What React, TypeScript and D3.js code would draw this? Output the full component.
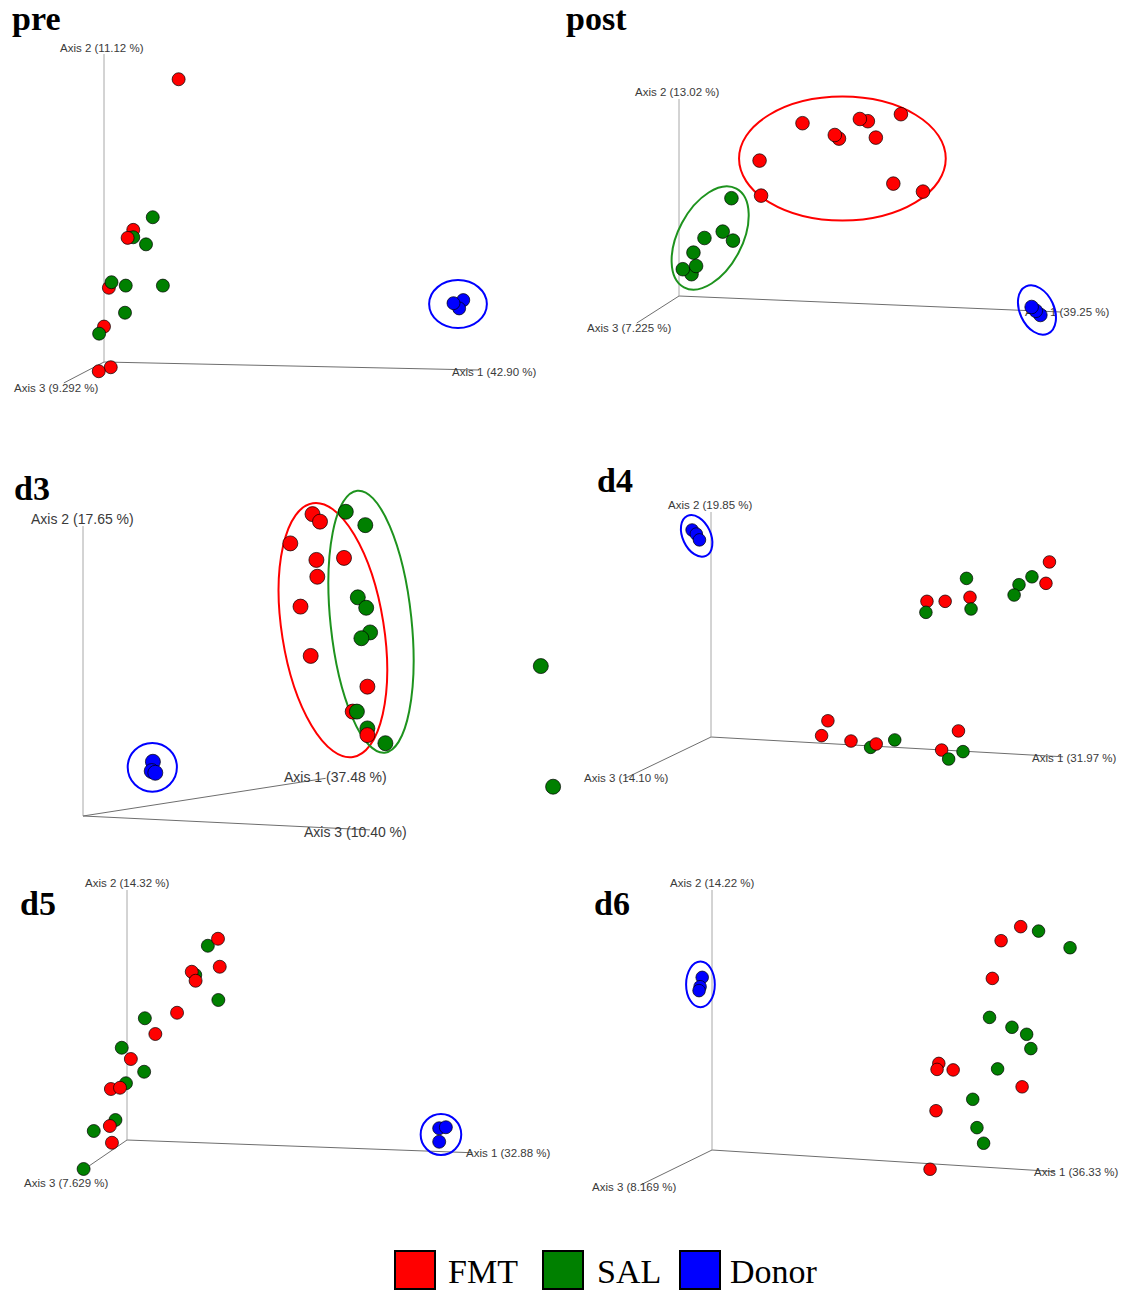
import React from "react";
import * as d3 from "d3";

// Group order, legend labels and colours
const groups = ["FMT", "SAL", "Donor"];
const groupFill = ["#ff0000", "#008000", "#0000ff"];
const groupRing = ["#ff0000", "#1e931e", "#0000ff"];

// Projected PCoA scores: [group, horizontal, vertical] in each panel's view units
const preScores: [string, number, number][] = [
  ["FMT", 19.9, 91.8],
  ["SAL", 13.0, 47.0],
  ["FMT", 7.8, 42.9],
  ["SAL", 7.8, 40.5],
  ["FMT", 6.3, 40.3],
  ["SAL", 11.2, 38.2],
  ["FMT", 1.3, 24.1],
  ["SAL", 2.0, 25.9],
  ["SAL", 5.8, 24.8],
  ["SAL", 15.7, 24.8],
  ["SAL", 5.6, 16.0],
  ["FMT", 0.0, 11.5],
  ["SAL", -1.3, 9.2],
  ["FMT", 1.8, -1.7],
  ["FMT", -1.4, -3.0],
  ["Donor", 95.8, 20.1],
  ["Donor", 94.7, 17.4],
  ["Donor", 93.2, 19.1],
];

const postScores: [string, number, number][] = [
  ["FMT", 32.5, 86.4],
  ["FMT", 42.1, 78.7],
  ["FMT", 41.0, 80.5],
  ["FMT", 49.7, 87.4],
  ["FMT", 47.6, 88.5],
  ["FMT", 51.8, 79.2],
  ["FMT", 58.4, 90.9],
  ["FMT", 21.2, 67.7],
  ["FMT", 21.6, 50.2],
  ["FMT", 56.4, 56.2],
  ["FMT", 64.2, 52.2],
  ["SAL", 13.8, 48.9],
  ["SAL", 11.5, 32.2],
  ["SAL", 14.2, 27.7],
  ["SAL", 6.7, 29.0],
  ["SAL", 3.8, 21.7],
  ["SAL", 3.3, 10.9],
  ["SAL", 1.0, 13.4],
  ["SAL", 4.5, 15.0],
  ["Donor", 95.1, -9.5],
  ["Donor", 93.9, -7.4],
  ["Donor", 92.8, -5.5],
];

const d3Scores: [string, number, number][] = [
  ["FMT", 76.5, 104.1],
  ["FMT", 79.0, 101.5],
  ["FMT", 69.1, 94.0],
  ["FMT", 77.8, 88.3],
  ["FMT", 78.1, 82.5],
  ["FMT", 87.0, 89.0],
  ["FMT", 72.5, 72.2],
  ["FMT", 75.9, 55.2],
  ["FMT", 94.8, 44.6],
  ["SAL", 87.6, 104.9],
  ["SAL", 94.1, 100.3],
  ["SAL", 91.6, 75.4],
  ["SAL", 94.4, 71.8],
  ["SAL", 95.7, 63.3],
  ["SAL", 92.8, 61.3],
  ["FMT", 89.9, 36.0],
  ["SAL", 91.3, 36.0],
  ["SAL", 94.8, 30.2],
  ["FMT", 94.8, 27.9],
  ["SAL", 100.8, 25.1],
  ["SAL", 152.6, 51.7],
  ["SAL", 156.7, 10.1],
  ["Donor", 23.3, 18.7],
  ["Donor", 22.9, 15.5],
  ["Donor", 24.1, 14.9],
];

const d4Scores: [string, number, number][] = [
  ["FMT", 96.7, 77.8],
  ["FMT", 95.7, 68.3],
  ["SAL", 91.7, 71.2],
  ["SAL", 88.0, 67.7],
  ["SAL", 86.6, 63.1],
  ["SAL", 73.0, 70.5],
  ["FMT", 61.7, 60.3],
  ["FMT", 66.9, 60.3],
  ["FMT", 74.0, 62.1],
  ["SAL", 61.4, 55.4],
  ["SAL", 74.3, 56.9],
  ["FMT", 33.4, 7.2],
  ["FMT", 31.6, 0.6],
  ["FMT", 40.0, -1.8],
  ["SAL", 45.6, -4.6],
  ["FMT", 47.2, -3.1],
  ["SAL", 52.5, -1.3],
  ["FMT", 70.7, 2.7],
  ["FMT", 65.9, -5.8],
  ["SAL", 67.9, -9.8],
  ["SAL", 72.0, -6.5],
  ["Donor", -5.4, 92.0],
  ["Donor", -4.2, 90.2],
  ["Donor", -3.3, 87.6],
];

const d5Scores: [string, number, number][] = [
  ["SAL", 23.1, 77.7],
  ["FMT", 26.0, 80.5],
  ["FMT", 26.5, 69.3],
  ["SAL", 19.5, 66.0],
  ["FMT", 18.5, 67.3],
  ["FMT", 19.6, 63.7],
  ["SAL", 26.1, 56.0],
  ["FMT", 14.3, 50.9],
  ["SAL", 5.1, 48.7],
  ["FMT", 8.1, 42.4],
  ["SAL", -1.5, 36.9],
  ["FMT", 1.1, 32.4],
  ["SAL", 4.9, 27.3],
  ["SAL", -0.3, 22.7],
  ["FMT", -4.6, 20.4],
  ["FMT", -2.0, 20.9],
  ["SAL", -3.3, 8.0],
  ["FMT", -4.9, 5.6],
  ["SAL", -9.5, 3.6],
  ["FMT", -4.3, -1.1],
  ["SAL", -12.4, -11.6],
  ["Donor", 89.2, 4.7],
  ["Donor", 91.1, 5.1],
  ["Donor", 89.2, -0.7],
];

const d6Scores: [string, number, number][] = [
  ["FMT", 88.2, 85.9],
  ["FMT", 82.6, 80.5],
  ["SAL", 93.3, 84.2],
  ["SAL", 102.3, 77.8],
  ["FMT", 80.1, 66.0],
  ["SAL", 79.3, 51.0],
  ["SAL", 85.7, 47.2],
  ["SAL", 89.9, 44.5],
  ["SAL", 91.1, 39.0],
  ["FMT", 64.8, 33.3],
  ["FMT", 64.3, 31.0],
  ["FMT", 68.9, 30.8],
  ["SAL", 81.6, 31.2],
  ["FMT", 88.6, 24.3],
  ["SAL", 74.5, 19.5],
  ["FMT", 64.0, 15.1],
  ["SAL", 75.7, 8.6],
  ["SAL", 77.6, 2.6],
  ["FMT", 62.3, -7.4],
  ["Donor", -2.8, 66.4],
  ["Donor", -3.4, 62.8],
  ["Donor", -3.7, 61.3],
];

// Group ellipses: [group, centre h, centre v, radius h, radius v, tilt in degrees]
const preRings: [string, number, number, number, number, number][] = [
  ["Donor", 94.4, 18.8, 7.7, 7.8, 0],
];
const postRings: [string, number, number, number, number, number][] = [
  ["FMT", 43.0, 68.7, 27.2, 31.0, 0],
  ["SAL", 8.2, 29.0, 14.7, 16.0, -62],
  ["Donor", 94.2, -7.0, 4.5, 13.0, -25],
];
const d3Rings: [string, number, number, number, number, number][] = [
  ["FMT", 83.3, 64.1, 17.0, 44.3, -9],
  ["SAL", 96.0, 67.0, 13.5, 45.4, -6],
  ["Donor", 23.1, 16.8, 8.2, 8.4, 0],
];
const d4Rings: [string, number, number, number, number, number][] = [
  ["Donor", -4.1, 89.4, 4.0, 9.8, -25],
];
const d5Rings: [string, number, number, number, number, number][] = [
  ["Donor", 89.7, 2.2, 5.8, 8.2, 0],
];
const d6Rings: [string, number, number, number, number, number][] = [
  ["Donor", -3.3, 63.7, 4.1, 8.8, 0],
];

// Percent variance explained by axes 1, 2, 3
const preVariance = [42.9, 11.12, 9.292];
const postVariance = [39.25, 13.02, 7.225];
const d3Variance = [37.48, 17.65, 10.4];
const d4Variance = [31.97, 19.85, 14.1];
const d5Variance = [32.88, 14.32, 7.629];
const d6Variance = [36.33, 14.22, 8.169];

// Projected ends of axes 1, 2 and 3 in view units
const preAxes = [[100, -2.6], [0, 100], [-10.7, -6.8]];
const postAxes = [[100.5, -8], [0, 98.5], [-11.1, -13.5]];
const d3Axes = [[80.9, 13.0], [0, 100], [95.7, -4.8]];
const d4Axes = [[100.6, -8.8], [0, 100], [-24.6, -18.4]];
const d5Axes = [[98.7, -5.1], [0, 100], [-13.9, -13.3]];
const d6Axes = [[98.0, -8.3], [0, 100], [-20.5, -13.5]];

const panelTitles = ["pre", "post", "d3", "d4", "d5", "d6"];

// Page layout for each panel (pixels)
const layout = [
  { ox: 104, oy: 362, kx: 3.75, ky: 3.08, r: 6.5, title: [12, 30], fs: 11.5, lab: [[452, 372], [60, 48], [14, 388]] },
  { ox: 679, oy: 296, kx: 3.8, ky: 2.0, r: 6.8, title: [566, 30], fs: 11.5, lab: [[1025, 312], [635, 92], [587, 328]] },
  { ox: 83, oy: 816, kx: 3.0, ky: 2.9, r: 7.5, title: [14, 500], fs: 14, lab: [[284, 777], [31, 519], [304, 832]] },
  { ox: 711, oy: 737, kx: 3.5, ky: 2.25, r: 6.3, title: [597, 492], fs: 11.5, lab: [[1032, 758], [668, 505], [584, 778]] },
  { ox: 127, oy: 1140, kx: 3.5, ky: 2.5, r: 6.5, title: [20, 915], fs: 11.5, lab: [[466, 1153], [85, 883], [24, 1183]] },
  { ox: 712, oy: 1150, kx: 3.5, ky: 2.6, r: 6.3, title: [594, 915], fs: 11.5, lab: [[1034, 1172], [670, 883], [592, 1187]] },
];

const panels = [
  { scores: preScores, rings: preRings, variance: preVariance, axes: preAxes },
  { scores: postScores, rings: postRings, variance: postVariance, axes: postAxes },
  { scores: d3Scores, rings: d3Rings, variance: d3Variance, axes: d3Axes },
  { scores: d4Scores, rings: d4Rings, variance: d4Variance, axes: d4Axes },
  { scores: d5Scores, rings: d5Rings, variance: d5Variance, axes: d5Axes },
  { scores: d6Scores, rings: d6Rings, variance: d6Variance, axes: d6Axes },
];

const color = d3.scaleOrdinal<string, string>().domain(groups).range(groupFill);
const ringColor = d3.scaleOrdinal<string, string>().domain(groups).range(groupRing);
const pct = d3.format(".4r");

const SANS = "'Liberation Sans', Arial, sans-serif";
const SERIF = "'Liberation Serif', 'Times New Roman', serif";

function Panel({ idx }: { idx: number }) {
  const p = panels[idx];
  const L = layout[idx];
  const x = d3.scaleLinear().domain([0, 100]).range([L.ox, L.ox + 100 * L.kx]);
  const y = d3.scaleLinear().domain([0, 100]).range([L.oy, L.oy - 100 * L.ky]);
  const axisStroke = ["#6e6e6e", "#a8a8a8", "#6e6e6e"];
  return (
    <g>
      <text
        x={L.title[0]}
        y={L.title[1]}
        fontFamily={SERIF}
        fontWeight="bold"
        fontSize={34}
        fill="#000"
      >
        {panelTitles[idx]}
      </text>
      {p.axes.map((a, i) => (
        <line
          key={"ax" + i}
          x1={x(0)}
          y1={y(0)}
          x2={x(a[0])}
          y2={y(a[1])}
          stroke={axisStroke[i]}
          strokeWidth={1}
        />
      ))}
      {p.variance.map((v, i) => (
        <text
          key={"lab" + i}
          x={L.lab[i][0]}
          y={L.lab[i][1]}
          dominantBaseline="central"
          fontFamily={SANS}
          fontSize={L.fs}
          fill="#3a3a3a"
        >
          {`Axis ${i + 1} (${pct(v)} %)`}
        </text>
      ))}
      {p.rings.map((e, i) => {
        const cx = x(e[1]);
        const cy = y(e[2]);
        return (
          <ellipse
            key={"ring" + i}
            cx={cx}
            cy={cy}
            rx={Math.abs(x(e[3]) - x(0))}
            ry={Math.abs(y(e[4]) - y(0))}
            transform={`rotate(${e[5]} ${cx} ${cy})`}
            fill="none"
            stroke={ringColor(e[0])}
            strokeWidth={2}
          />
        );
      })}
      {p.scores.map((s, i) => (
        <circle
          key={"pt" + i}
          cx={x(s[1])}
          cy={y(s[2])}
          r={L.r}
          fill={color(s[0])}
          stroke="rgba(0,0,0,0.7)"
          strokeWidth={1}
        />
      ))}
    </g>
  );
}

function Legend() {
  const boxX = [395, 543, 680];
  const textX = [448, 597, 730];
  return (
    <g>
      {groups.map((g, i) => (
        <g key={g}>
          <rect
            x={boxX[i]}
            y={1251}
            width={40}
            height={38}
            fill={color(g)}
            stroke="#000"
            strokeWidth={2}
          />
          <text x={textX[i]} y={1283} fontFamily={SERIF} fontSize={34} fill="#000">
            {g}
          </text>
        </g>
      ))}
    </g>
  );
}

export default function App() {
  return (
    <svg
      width={1121}
      height={1291}
      viewBox="0 0 1121 1291"
      style={{ position: "absolute", left: 0, top: 0, background: "#fff" }}
    >
      <rect x={0} y={0} width={1121} height={1291} fill="#fff" />
      {panels.map((_, i) => (
        <Panel key={i} idx={i} />
      ))}
      <Legend />
    </svg>
  );
}
